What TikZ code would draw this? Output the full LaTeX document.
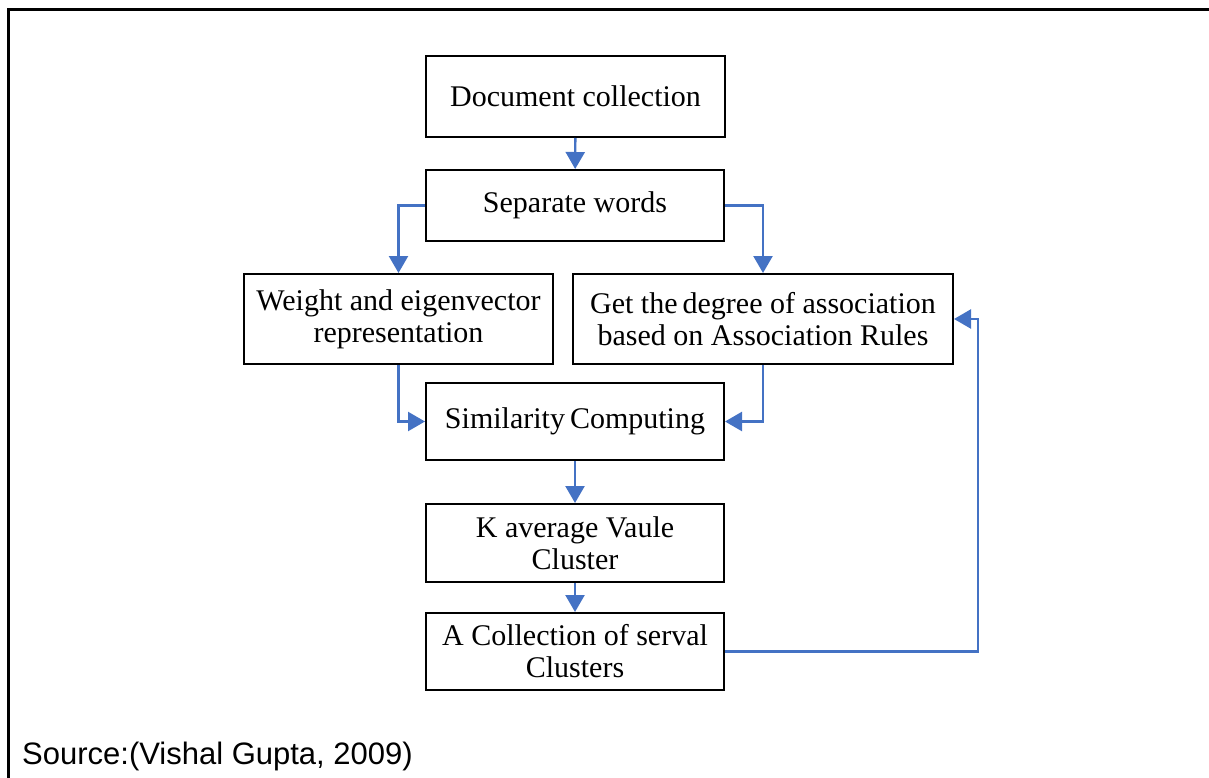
\documentclass[tikz,border=0pt]{standalone}
\usepackage{fontspec}
\setmainfont{Liberation Serif}
\newfontfamily\srcfont{Liberation Sans}
\usetikzlibrary{arrows.meta}
\definecolor{flowblue}{HTML}{4472C4}
\begin{document}
\begin{tikzpicture}[x=1pt,y=-1pt,
  stepbox/.style={draw=black,line width=2pt,align=center,inner sep=0pt,
    font=\fontsize{30}{32}\selectfont},
  flow/.style={draw=flowblue,line width=2.4pt,
    -{Triangle[length=17pt,width=19pt]}},
  frameline/.style={line width=3pt,draw=black}]
\useasboundingbox (0,0) rectangle (1209,778);

% outer frame: top and left sides only
\draw[frameline] (8,778) -- (8,10) -- (1209,10);

% process steps
\node[stepbox,minimum width=299pt,minimum height=81pt] (doc) at (575.5,96.5) {Document collection};
\node[stepbox,minimum width=298pt,minimum height=71pt] (sep) at (575,205.5) {Separate words};
\node[stepbox,minimum width=309pt,minimum height=90pt] (wt) at (398.5,319) {Weight and eigenvector\\representation};
\node[stepbox,minimum width=380pt,minimum height=90pt] (get) at (763,319) {Get the\,degree of association\\based on Association Rules};
\node[stepbox,minimum width=298pt,minimum height=77pt] (sim) at (575,421.5) {Similarity\,Computing};
\node[stepbox,minimum width=298pt,minimum height=78pt] (kav) at (575,543) {K average Vaule\\Cluster};
\node[stepbox,minimum width=298pt,minimum height=77pt] (col) at (575,651.5) {A Collection of serval\\Clusters};

% feedback corner to the right of the association step
\coordinate (fb) at ([xshift=24pt]get.east);

% connectors
\draw[flow] (doc) -- (sep);
\draw[flow] (sep.west) -| (wt.north);
\draw[flow] (sep.east) -| (get.north);
\draw[flow] (wt.south) |- (sim.west);
\draw[flow] (get.south) |- (sim.east);
\draw[flow] (sim) -- (kav);
\draw[flow] (kav) -- (col);
\draw[flow] (col.east) -| (fb) -- (get.east);

% source line
\node[anchor=base west,inner sep=0pt,font=\srcfont\fontsize{31}{35}\selectfont] (src) at (22,764) {Source:(Vishal Gupta, 2009)};
\end{tikzpicture}
\end{document}
